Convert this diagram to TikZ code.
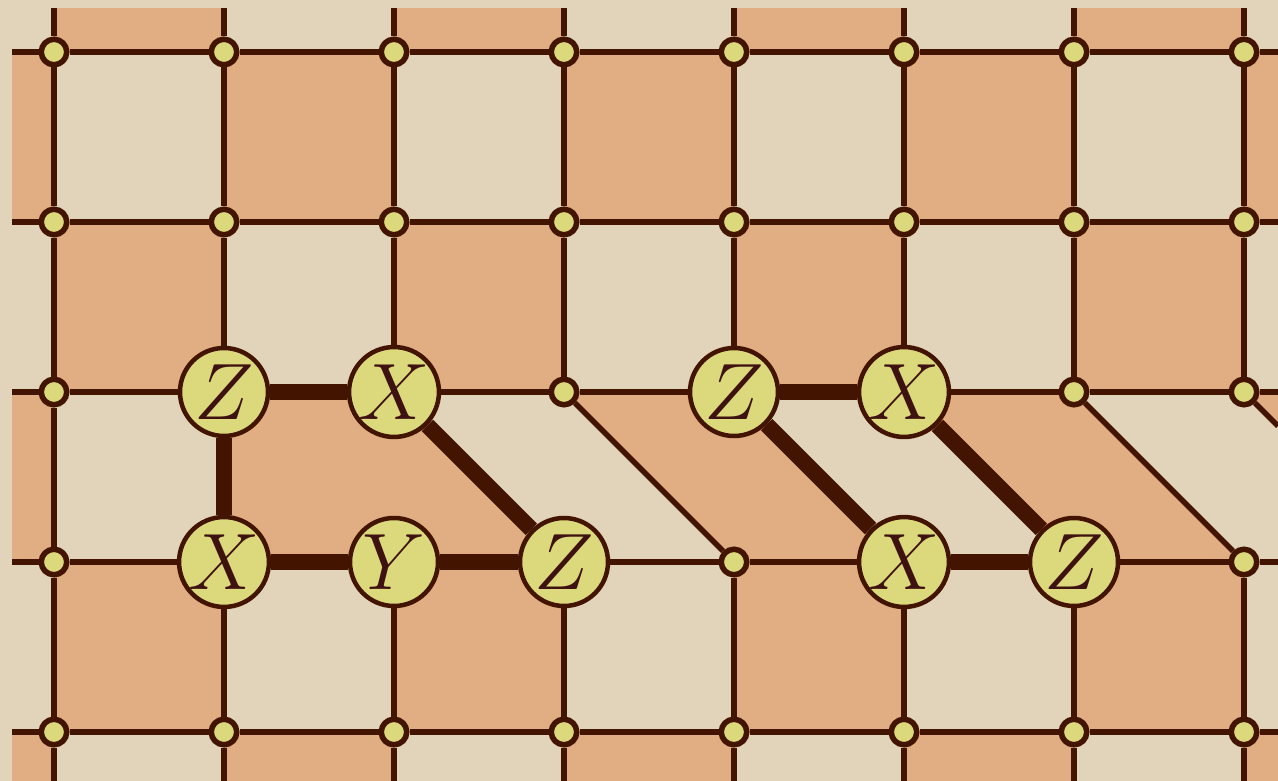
\RequirePackage{fix-cm}
\documentclass[tikz,border=0pt]{standalone}
\definecolor{bgc}{HTML}{E2D4BA}
\definecolor{orc}{HTML}{E0AE82}
\definecolor{lnc}{HTML}{431400}
\definecolor{ndc}{HTML}{DCD97C}
\definecolor{txc}{HTML}{3E1210}
\pgfdeclarelayer{bg}
\pgfdeclarelayer{edges}
\pgfsetlayers{bg,edges,main}
\tikzset{
  smallnode/.style={circle,draw=lnc,fill=ndc,line width=5.5pt,minimum size=25.5pt,inner sep=0pt},
  bignode/.style={circle,draw=lnc,fill=ndc,line width=4.5pt,minimum size=88pt,inner sep=0pt,
    text=txc,font=\fontsize{80}{80}\selectfont},
  thinedge/.style={draw=lnc,line width=5.5pt},
  thickedge/.style={draw=lnc,line width=16pt},
  cell/.style={fill=orc}
}
\begin{document}
\begin{tikzpicture}[x=1pt,y=-1pt]
\useasboundingbox (0,0) rectangle (1278,781);
% boundary coordinates
\foreach \i in {0,...,7}{
  \coordinate (t-\i) at ({54+170*\i},8);
  \coordinate (b-\i) at ({54+170*\i},781);
}
\foreach \j in {0,...,4}{
  \coordinate (l-\j) at (12,{52+170*\j});
  \coordinate (r-\j) at (1278,{52+170*\j});
}
\coordinate (d) at (1278,426);
% small nodes
\foreach \j in {0,1,4}{
  \foreach \i in {0,...,7}{
    \node[smallnode] (v-\i-\j) at ({54+170*\i},{52+170*\j}) {};
  }
}
\foreach \i in {0,3,6,7}{
  \node[smallnode] (v-\i-2) at ({54+170*\i},392) {};
}
\foreach \i in {0,4,7}{
  \node[smallnode] (v-\i-3) at ({54+170*\i},562) {};
}
% big nodes
\node[bignode] (v-1-2) at (224,392) {$Z$};
\node[bignode] (v-2-2) at (394,392) {$X$};
\node[bignode] (v-1-3) at (224,562) {$X$};
\node[bignode] (v-2-3) at (394,562) {$Y$};
\node[bignode] (v-3-3) at (564,562) {$Z$};
\node[bignode] (v-4-2) at (734,392) {$Z$};
\node[bignode] (v-5-2) at (904,392) {$X$};
\node[bignode] (v-5-3) at (904,562) {$X$};
\node[bignode] (v-6-3) at (1074,562) {$Z$};

\begin{pgfonlayer}{bg}
  \fill[bgc] (0,0) rectangle (1278,781);
  \foreach \k in {0,2,4,6}{
    \fill[cell] ({54+170*\k},8) rectangle ({224+170*\k},52);
    \fill[cell] ({54+170*\k},222) rectangle ({224+170*\k},392);
    \fill[cell] ({54+170*\k},562) rectangle ({224+170*\k},732);
  }
  \foreach \k in {1,3,5}{
    \fill[cell] ({54+170*\k},52) rectangle ({224+170*\k},222);
    \fill[cell] ({54+170*\k},732) rectangle ({224+170*\k},781);
  }
  \fill[cell] (12,52) rectangle (54,222);
  \fill[cell] (1244,52) rectangle (1278,222);
  \fill[cell] (12,392) rectangle (54,562);
  \fill[cell] (12,732) rectangle (54,781);
  \fill[cell] (1244,732) rectangle (1278,781);
  \fill[cell] (224,392) -- (394,392) -- (564,562) -- (224,562) -- cycle;
  \fill[cell] (564,392) -- (734,392) -- (904,562) -- (734,562) -- cycle;
  \fill[cell] (904,392) -- (1074,392) -- (1244,562) -- (1074,562) -- cycle;
  \fill[cell] (1244,392) -- (1278,392) -- (1278,426) -- cycle;
\end{pgfonlayer}

\begin{pgfonlayer}{edges}
  % regular horizontals
  \foreach \j in {0,1,4}{
    \draw[thinedge] (l-\j) -- (v-0-\j);
    \draw[thinedge] (v-7-\j) -- (r-\j);
    \foreach \i [evaluate=\i as \n using int(\i+1)] in {0,...,6}{
      \draw[thinedge] (v-\i-\j) -- (v-\n-\j);
    }
  }
  % regular verticals
  \foreach \i in {0,...,7}{
    \draw[thinedge] (t-\i) -- (v-\i-0);
    \draw[thinedge] (v-\i-0) -- (v-\i-1);
    \draw[thinedge] (v-\i-1) -- (v-\i-2);
    \draw[thinedge] (v-\i-3) -- (v-\i-4);
    \draw[thinedge] (v-\i-4) -- (b-\i);
  }
  % row 2 horizontals
  \draw[thinedge] (l-2) -- (v-0-2);
  \draw[thinedge] (v-0-2) -- (v-1-2);
  \draw[thickedge] (v-1-2) -- (v-2-2);
  \draw[thinedge] (v-2-2) -- (v-3-2);
  \draw[thinedge] (v-3-2) -- (v-4-2);
  \draw[thickedge] (v-4-2) -- (v-5-2);
  \draw[thinedge] (v-5-2) -- (v-6-2);
  \draw[thinedge] (v-6-2) -- (v-7-2);
  \draw[thinedge] (v-7-2) -- (r-2);
  % row 3 horizontals
  \draw[thinedge] (l-3) -- (v-0-3);
  \draw[thinedge] (v-0-3) -- (v-1-3);
  \draw[thickedge] (v-1-3) -- (v-2-3);
  \draw[thickedge] (v-2-3) -- (v-3-3);
  \draw[thinedge] (v-3-3) -- (v-4-3);
  \draw[thinedge] (v-4-3) -- (v-5-3);
  \draw[thickedge] (v-5-3) -- (v-6-3);
  \draw[thinedge] (v-6-3) -- (v-7-3);
  \draw[thinedge] (v-7-3) -- (r-3);
  % between rows 2 and 3
  \draw[thinedge] (v-0-2) -- (v-0-3);
  \draw[thickedge] (v-1-2) -- (v-1-3);
  \draw[thickedge] (v-2-2) -- (v-3-3);
  \draw[thinedge] (v-3-2) -- (v-4-3);
  \draw[thickedge] (v-4-2) -- (v-5-3);
  \draw[thickedge] (v-5-2) -- (v-6-3);
  \draw[thinedge] (v-6-2) -- (v-7-3);
  \draw[thinedge] (v-7-2) -- (d);
\end{pgfonlayer}
\end{tikzpicture}
\end{document}
